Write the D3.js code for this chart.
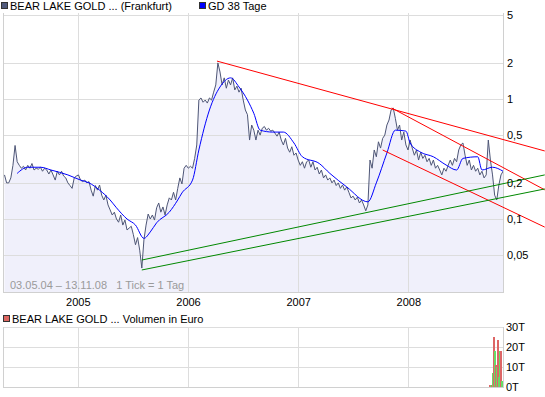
<!DOCTYPE html>
<html>
<head>
<meta charset="utf-8">
<script src="https://cdn.jsdelivr.net/npm/d3@7"></script>
<style>
  body { margin: 0; background: #fff; }
  svg { display: block; font-family: "Liberation Sans", Arial, sans-serif; font-size: 11px; }
</style>
</head>
<body>
<svg id="chart" width="545" height="397"></svg>
<script>
// BEAR LAKE GOLD (Frankfurt), weekly closes from 03.05.04
const startDate = "2004-05-03";
const endDate = "2008-11-13";
const prices = [
  0.233, 0.20, 0.20, 0.22, 0.28, 0.41, 0.30, 0.28, 0.265, 0.275,
  0.256, 0.28, 0.265, 0.29, 0.256, 0.265, 0.26, 0.27, 0.25, 0.265,
  0.256, 0.237, 0.256, 0.233, 0.211, 0.25, 0.233, 0.25, 0.228, 0.22,
  0.20, 0.19, 0.18, 0.22, 0.228, 0.233, 0.211, 0.205, 0.211, 0.20,
  0.205, 0.174, 0.155, 0.19, 0.174, 0.192, 0.158, 0.144, 0.158, 0.131,
  0.119, 0.108, 0.114, 0.10, 0.094, 0.108, 0.089, 0.098, 0.081, 0.084,
  0.087, 0.074, 0.061, 0.07, 0.055, 0.039, 0.067, 0.089, 0.11, 0.10,
  0.108, 0.098, 0.124, 0.136, 0.114, 0.126, 0.108, 0.131, 0.15, 0.144,
  0.167, 0.144, 0.18, 0.22, 0.196, 0.265, 0.28, 0.265, 0.275, 0.265,
  0.32, 0.414, 0.98, 1.02, 0.94, 0.98, 0.925, 1.02, 0.98, 1.14,
  1.31, 2.0, 1.68, 1.31, 1.5, 1.23, 1.44, 1.31, 1.5, 1.19,
  1.28, 1.14, 1.23, 0.98, 0.81, 0.74, 0.455, 0.607, 0.55, 0.455,
  0.55, 0.5, 0.57, 0.59, 0.55, 0.57, 0.54, 0.55, 0.52, 0.49,
  0.53, 0.455, 0.414, 0.47, 0.39, 0.36, 0.40, 0.34, 0.355, 0.31,
  0.28, 0.30, 0.265, 0.30, 0.31, 0.27, 0.30, 0.256, 0.27, 0.237,
  0.256, 0.22, 0.233, 0.211, 0.22, 0.20, 0.211, 0.19, 0.20, 0.18,
  0.192, 0.174, 0.185, 0.167, 0.15, 0.155, 0.144, 0.152, 0.136, 0.144,
  0.131, 0.117, 0.131, 0.31, 0.265, 0.376, 0.33, 0.44, 0.39, 0.47,
  0.5, 0.607, 0.668, 0.81, 0.84, 0.69, 0.55, 0.607, 0.455, 0.53,
  0.414, 0.376, 0.455, 0.39, 0.34, 0.376, 0.31, 0.36, 0.32, 0.34,
  0.30, 0.32, 0.28, 0.31, 0.265, 0.28, 0.256, 0.233, 0.265, 0.25,
  0.28, 0.31, 0.28, 0.32, 0.30, 0.376, 0.414, 0.43, 0.34, 0.28,
  0.31, 0.256, 0.28, 0.25, 0.265, 0.233, 0.25, 0.22, 0.233, 0.455,
  0.31, 0.233, 0.158, 0.144, 0.192, 0.233, 0.25
];

// GD 38 Tage (moving average), read at these week numbers
const maWeeks = [6, 11, 17, 22, 30, 36, 40, 45, 50, 53, 58, 62, 66, 69, 72, 78, 82, 84, 89, 92,
  97, 102, 107, 111, 115, 118, 121, 127, 132, 137, 141, 149, 154, 162, 172, 176, 181, 185, 190,
  192, 197, 203, 209, 214, 217, 224, 226, 231, 236];
const maValues = [0.24, 0.27, 0.27, 0.256, 0.233, 0.211, 0.20, 0.174, 0.144, 0.124, 0.10, 0.089,
  0.069, 0.078, 0.093, 0.114, 0.144, 0.165, 0.211, 0.376, 0.81, 1.26, 1.5, 1.26, 0.98, 0.76, 0.55,
  0.53, 0.53, 0.43, 0.33, 0.29, 0.24, 0.185, 0.139, 0.2, 0.355, 0.55, 0.54, 0.43, 0.36, 0.33,
  0.282, 0.256, 0.32, 0.33, 0.256, 0.27, 0.25];

// trend lines: start date, start value, end date, end value
const redLines = [
  ["2006-04-07", 2.07, "2009-03-28", 0.369],
  ["2007-11-07", 0.841, "2009-03-28", 0.175],
  ["2007-10-08", 0.376, "2009-03-28", 0.0856]
];
const greenLines = [
  ["2005-08-01", 0.0455, "2009-03-28", 0.233],
  ["2005-08-01", 0.0376, "2009-03-28", 0.178]
];

const yTicks = [5, 2, 1, 0.5, 0.2, 0.1, 0.05];
const yearTicks = ["2005-01-01", "2006-01-01", "2007-01-01", "2008-01-01"];

// volume in Euro (thousands)
const volDates = ["2008-09-26", "2008-09-30", "2008-10-03", "2008-10-08", "2008-10-10", "2008-10-14",
  "2008-10-17", "2008-10-21", "2008-10-24", "2008-10-28", "2008-10-31", "2008-11-03", "2008-11-07"];
const volValues = [1, 1, 1, 7, 25, 18, 11, 10, 23.5, 5, 18, 18, 3];
const volUp = [false, true, false, true, false, true, false, true, false, true, true, false, true];
const volTicks = [0, 10, 20, 30];

const parse = d3.timeParse("%Y-%m-%d");
const svg = d3.select("#chart");

const pLeft = 3, pRight = 503, pTop = 13, pBottom = 292;
const vTop = 327, vBottom = 387;

const t0 = parse(startDate);
const x = d3.scaleTime().domain([t0, parse(endDate)]).range([4.5, 504]);
const y = d3.scaleLog().domain([1, 0.1]).range([99, 219]);
const yv = d3.scaleLinear().domain([0, 30]).range([vBottom, vTop]);

const weekDate = (i) => d3.timeDay.offset(t0, i * 7);
const series = prices.map((v, i) => ({ date: weekDate(i), value: v }));
const ma = maWeeks.map((w, i) => ({ date: weekDate(w), value: maValues[i] }));

const gridColor = "#dddddd";
const frameColor = "#d0d0d0";

svg.append("defs").append("clipPath").attr("id", "plotClip")
  .append("rect").attr("x", pLeft).attr("y", pTop).attr("width", pRight - pLeft).attr("height", pBottom - pTop);

// price area first, grid drawn over it
const plot = svg.append("g").attr("clip-path", "url(#plotClip)");
plot.append("path").datum(series)
  .attr("d", d3.area().x((d) => x(d.date)).y0(pBottom).y1((d) => y(d.value)))
  .attr("fill", "#f0f0fb");

const grid = svg.append("g").attr("shape-rendering", "crispEdges");
grid.selectAll("line.h").data(yTicks).enter().append("line")
  .attr("x1", pLeft).attr("x2", pRight)
  .attr("y1", (d) => Math.round(y(d)) + 0.5).attr("y2", (d) => Math.round(y(d)) + 0.5)
  .attr("stroke", gridColor);
grid.selectAll("line.v").data(yearTicks).enter().append("line")
  .attr("x1", (d) => Math.round(x(parse(d))) + 0.5).attr("x2", (d) => Math.round(x(parse(d))) + 0.5)
  .attr("y1", pTop).attr("y2", pBottom)
  .attr("stroke", gridColor);
grid.append("path")
  .attr("d", `M${pLeft + 0.5},${pTop} V${pBottom + 0.5} H${pRight + 0.5} V${pTop}`)
  .attr("fill", "none").attr("stroke", frameColor);

const lines = svg.append("g").attr("clip-path", "url(#plotClip)");
lines.append("path").datum(series)
  .attr("d", d3.line().x((d) => x(d.date)).y((d) => y(d.value)))
  .attr("fill", "none").attr("stroke", "#4e5676").attr("stroke-width", 1);

lines.append("path").datum(ma)
  .attr("d", d3.line().x((d) => x(d.date)).y((d) => y(d.value)).curve(d3.curveMonotoneX))
  .attr("fill", "none").attr("stroke", "#0000ff").attr("stroke-width", 1);

// trend lines (they run past the frame to the page edge)
const trend = (rows, color) => {
  svg.append("g").selectAll("line").data(rows).enter().append("line")
    .attr("x1", (d) => x(parse(d[0]))).attr("y1", (d) => y(d[1]))
    .attr("x2", (d) => x(parse(d[2]))).attr("y2", (d) => y(d[3]))
    .attr("stroke", color).attr("stroke-width", 1);
};
trend(redLines, "#ff0000");
trend(greenLines, "#008800");

// axes
const fmtDe = (d) => String(d).replace(".", ",");
const yAxis = svg.append("g").attr("transform", `translate(${pRight},0)`)
  .call(d3.axisRight(y).tickValues(yTicks).tickFormat(fmtDe).tickSize(0).tickPadding(4));
yAxis.select(".domain").remove();
yAxis.selectAll("text").attr("font-size", 11).attr("font-family", "Liberation Sans, Arial, sans-serif").attr("fill", "#000");

const xAxis = svg.append("g").attr("transform", `translate(0,${pBottom})`)
  .call(d3.axisBottom(x).tickValues(yearTicks.map(parse)).tickFormat(d3.timeFormat("%Y")).tickSize(0).tickPadding(6));
xAxis.select(".domain").remove();
xAxis.selectAll("text").attr("font-size", 11).attr("font-family", "Liberation Sans, Arial, sans-serif").attr("fill", "#000");

svg.append("text").attr("x", 10).attr("y", 289)
  .attr("fill", "#9a9a9a").style("white-space", "pre")
  .text("03.05.04 – 13.11.08   1 Tick = 1 Tag");

// legend
const legend = (lx, ly, color, label) => {
  svg.append("rect").attr("x", lx + 0.5).attr("y", ly + 0.5).attr("width", 6).attr("height", 6)
    .attr("fill", color).attr("stroke", "#333").attr("shape-rendering", "crispEdges");
  svg.append("text").attr("x", lx + 9).attr("y", ly + 7.5).attr("fill", "#000").text(label);
};
legend(1, 2, "#505a7c", "BEAR LAKE GOLD ... (Frankfurt)");
legend(199, 2, "#0000ff", "GD 38 Tage");
legend(3, 315, "#dd6660", "BEAR LAKE GOLD ... Volumen in Euro");

// volume panel
const vg = svg.append("g").attr("shape-rendering", "crispEdges");
vg.selectAll("line.h").data(volTicks.slice(1)).enter().append("line")
  .attr("x1", pLeft).attr("x2", pRight)
  .attr("y1", (d) => Math.round(yv(d)) + 0.5).attr("y2", (d) => Math.round(yv(d)) + 0.5)
  .attr("stroke", gridColor);
vg.selectAll("line.v").data(yearTicks).enter().append("line")
  .attr("x1", (d) => Math.round(x(parse(d))) + 0.5).attr("x2", (d) => Math.round(x(parse(d))) + 0.5)
  .attr("y1", vTop).attr("y2", vBottom)
  .attr("stroke", gridColor);
vg.append("path")
  .attr("d", `M${pLeft + 0.5},${vTop} V${vBottom + 0.5} H${pRight + 0.5} V${vTop}`)
  .attr("fill", "none").attr("stroke", frameColor);

vg.selectAll("rect.bar").data(volValues).enter().append("rect")
  .attr("x", (d, i) => Math.round(x(parse(volDates[i]))) - 1)
  .attr("y", (d) => yv(d))
  .attr("width", 2)
  .attr("height", (d) => vBottom - yv(d))
  .attr("fill", (d, i) => volUp[i] ? "#66dd66" : "#dd6666");

const vAxis = svg.append("g").attr("transform", `translate(${pRight},0)`)
  .call(d3.axisRight(yv).tickValues(volTicks).tickFormat((d) => d + "T").tickSize(0).tickPadding(3));
vAxis.select(".domain").remove();
vAxis.selectAll("text").attr("font-size", 11).attr("font-family", "Liberation Sans, Arial, sans-serif").attr("fill", "#000");
</script>
</body>
</html>
